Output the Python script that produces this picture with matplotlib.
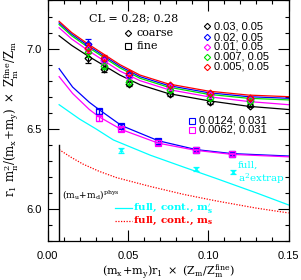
import numpy as np
import matplotlib
matplotlib.use('Agg')
import matplotlib.pyplot as plt

plt.rcParams['mathtext.fontset'] = 'dejavuserif'

# physical point
x_phys = 0.0072

# coarse data: x per cluster, one y list per (m_l, m_s) ensemble
coarse_x = [0.025, 0.035, 0.0505, 0.076, 0.101, 0.126]
coarse_err = [0.03, 0.02, 0.015, 0.01, 0.01, 0.01]
coarse_labels = ['0.03, 0.05', '0.02, 0.05', '0.01, 0.05', '0.007, 0.05', '0.005, 0.05']
coarse_colors = ['black', 'blue', 'magenta', '#00e000', 'red']
coarse_y = {
    'black':   [6.94, 6.875, 6.78, 6.715, 6.665, 6.645],
    'blue':    [7.03, 6.93, 6.835, 6.765, 6.715, 6.685],
    'magenta': [7.00, 6.925, 6.82, 6.76, 6.71, 6.68],
    '#00e000': [6.98, 6.89, 6.79, 6.74, 6.69, 6.67],
    'red':     [7.005, 6.94, 6.845, 6.77, 6.72, 6.69],
}

# coarse fit curves
cfit_x = [0.0072, 0.015, 0.025, 0.035, 0.045, 0.0575, 0.075, 0.10, 0.125, 0.15]
cfit_y = {
    'black':   [7.08, 7.02, 6.955, 6.895, 6.835, 6.775, 6.72, 6.675, 6.64, 6.62],
    'blue':    [7.16, 7.09, 7.02, 6.955, 6.89, 6.825, 6.77, 6.725, 6.70, 6.69],
    'magenta': [7.13, 7.06, 6.99, 6.925, 6.86, 6.80, 6.745, 6.70, 6.67, 6.65],
    '#00e000': [7.15, 7.08, 7.01, 6.945, 6.88, 6.815, 6.76, 6.715, 6.69, 6.68],
    'red':     [7.17, 7.10, 7.03, 6.965, 6.90, 6.835, 6.78, 6.735, 6.71, 6.70],
}

# fine data
fine_x = [0.032, 0.046, 0.069, 0.0925, 0.115]
fine_err = [0.015, 0.012, 0.01, 0.01, 0.01]
fine_labels = ['0.0124, 0.031', '0.0062, 0.031']
fine_colors = ['blue', 'magenta']
fine_y = {
    'blue':    [6.61, 6.515, 6.425, 6.37, 6.345],
    'magenta': [6.565, 6.50, 6.41, 6.365, 6.34],
}
ffit_x = [0.0072, 0.0156, 0.026, 0.032, 0.046, 0.069, 0.0925, 0.115, 0.15]
ffit_y = {
    'blue':    [6.875, 6.76, 6.665, 6.62, 6.52, 6.425, 6.37, 6.345, 6.33],
    'magenta': [6.825, 6.72, 6.62, 6.575, 6.495, 6.41, 6.365, 6.34, 6.325],
}

# continuum extrapolations
cont_x = [0.0072, 0.02, 0.03, 0.041, 0.064, 0.085, 0.105, 0.13, 0.15]
cont_ms_prime = [6.65, 6.56, 6.50, 6.43, 6.335, 6.26, 6.19, 6.10, 6.025]
dot_x = [0.0072, 0.015, 0.022, 0.032, 0.043, 0.064, 0.085, 0.105, 0.13, 0.15]
cont_ms = [6.37, 6.32, 6.28, 6.235, 6.195, 6.14, 6.09, 6.05, 6.005, 5.975]

# a^2 extrapolated points
a2_x = [0.046, 0.0925]
a2_y = [6.366, 6.25]
a2_err = [0.015, 0.012]

fig = plt.figure(figsize=(3.01, 2.80), dpi=100)
ax = fig.add_axes([0.158, 0.1393, 0.8005, 0.859])

sans = 'Liberation Sans'
serif = 'DejaVu Serif'

for c in coarse_colors:
    ax.plot(cfit_x, cfit_y[c], color=c, lw=0.9)
    ax.errorbar(coarse_x, coarse_y[c], yerr=coarse_err, fmt='D', ms=3.5,
                mfc='none', mec=c, mew=0.9, ecolor=c, elinewidth=0.9,
                capsize=2, capthick=0.9)

for c in fine_colors:
    ax.plot(ffit_x, ffit_y[c], color=c, lw=0.9)
    ax.errorbar(fine_x, fine_y[c], yerr=fine_err, fmt='s', ms=5,
                mfc='none', mec=c, mew=0.9, ecolor=c, elinewidth=0.9,
                capsize=2, capthick=0.9)

ax.plot(cont_x, cont_ms_prime, color='cyan', lw=0.9)
ax.plot(dot_x, cont_ms, color='red', lw=0.9, ls=(0, (1, 1.2)))
ax.errorbar(a2_x, a2_y, yerr=a2_err, fmt='x', ms=3, mew=0.9, color='cyan',
            elinewidth=0.9, capsize=2.5, capthick=0.9)

ax.plot([x_phys, x_phys], [5.8, 6.40], color='black', lw=1)
ax.text(0.0092, 6.088, r'$\mathrm{(m_u\!+\!m_d)^{phys}}$', fontsize=6.5,
        va='center', ha='left')

# labels inside plot
ax.text(0.0535, 7.188, 'CL = 0.28; 0.28', family=serif, fontsize=8,
        ha='center', va='center')
ax.plot([0.050], [7.10], 'D', ms=3.2, mfc='none', mec='black', mew=0.8)
ax.text(0.0555, 7.10, 'coarse', family=serif, fontsize=8, va='center')
ax.plot([0.050], [7.014], 's', ms=4.5, mfc='none', mec='black', mew=0.8)
ax.text(0.0555, 7.014, 'fine', family=serif, fontsize=8, va='center')

leg_y = [7.140, 7.072, 7.010, 6.948, 6.886]
for lab, c, yy in zip(coarse_labels, coarse_colors, leg_y):
    ax.plot([0.0993], [yy], 'D', ms=3.2, mfc='none', mec=c, mew=0.8)
    ax.text(0.1035, yy, lab, family=sans, fontsize=8, va='center')

fleg_y = [6.55, 6.493]
for lab, c, yy in zip(fine_labels, fine_colors, fleg_y):
    ax.plot([0.0897], [yy], 's', ms=4.5, mfc='none', mec=c, mew=0.8)
    ax.text(0.094, yy, lab, family=sans, fontsize=8, va='center')

ax.plot([0.0421, 0.0526], [6.005, 6.005], color='cyan', lw=0.9)
ax.text(0.0535, 6.005, r"full, cont., m$_\mathbf{s}^\mathbf{\prime}$", family=serif,
        fontsize=7.5, color='cyan', fontweight='bold', va='center')
ax.plot([0.0421, 0.0526], [5.923, 5.923], color='red', lw=0.9, ls=(0, (1, 1.2)))
ax.text(0.0535, 5.923, r"full, cont., m$_\mathbf{s}$", family=serif,
        fontsize=7.5, color='red', fontweight='bold', va='center')

ax.errorbar([0.1156], [6.23], yerr=[0.012], fmt='x', ms=3, mew=0.9, color='cyan',
            elinewidth=0.9, capsize=2.5, capthick=0.9)
ax.text(0.1185, 6.275, 'full,', family=serif, fontsize=7.5, color='cyan',
        va='center')
ax.text(0.1185, 6.19, r'a$^\mathrm{2}$extrap', family=serif, fontsize=7.5,
        color='cyan', va='center')

ax.set_xlim(0.0, 0.15)
ax.set_ylim(5.8, 7.3)
ax.set_xticks([0.0, 0.05, 0.10, 0.15])
ax.set_xticklabels(['0.00', '0.05', '0.10', '0.15'])
ax.set_xticks(np.arange(0.0, 0.1501, 0.01), minor=True)
ax.set_yticks([6.0, 6.5, 7.0])
ax.set_yticklabels(['6.0', '6.5', '7.0'])
ax.set_yticks(np.arange(5.8, 7.301, 0.1), minor=True)
ax.tick_params(which='both', direction='in', top=True, right=True, width=0.8)
ax.tick_params(which='major', length=8)
ax.tick_params(which='minor', length=3)
ax.tick_params(axis='x', which='major', pad=7)
ax.tick_params(axis='y', which='major', pad=4)
for lab in ax.get_xticklabels() + ax.get_yticklabels():
    lab.set_family(sans)
    lab.set_fontsize(8)
for s in ax.spines.values():
    s.set_linewidth(0.9)

ax.set_xlabel(r'$\mathrm{(m_x\!+\!m_y)r_1\ \times\ (Z_m/Z_m^{fine})}$', fontsize=8)
ax.set_ylabel(r'$\mathrm{r_1\ m_\pi^2/(m_x\!+\!m_y)\ \times\ Z_m^{fine}/Z_m}$', fontsize=8.5)
ax.xaxis.set_label_coords(0.5, -0.087)
ax.yaxis.set_label_coords(-0.112, 0.51)

fig.savefig('out.png', dpi=100)
